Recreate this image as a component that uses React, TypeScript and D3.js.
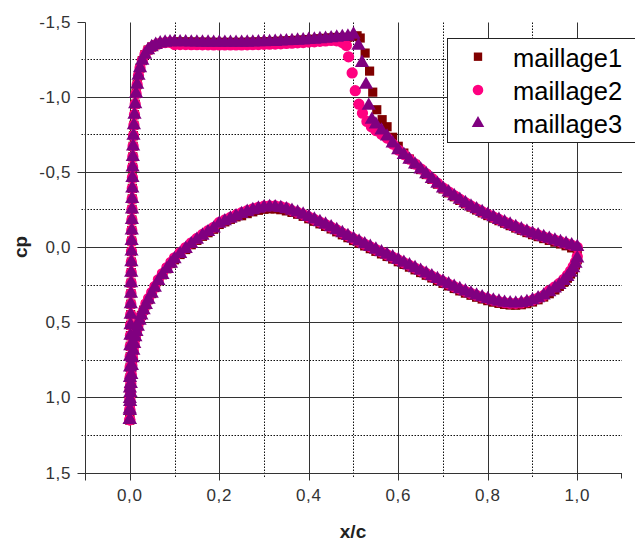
import React from 'react';
import * as d3 from 'd3';

const W = 635;
const H = 542;

const xMajor = [0, 0.2, 0.4, 0.6, 0.8, 1.0];
const xMinor = [0.1, 0.3, 0.5, 0.7, 0.9];
const xTickLabels = ['0,0', '0,2', '0,4', '0,6', '0,8', '1,0'];
const yMajor = [-1.5, -1.0, -0.5, 0, 0.5, 1.0, 1.5];
const yMinor = [-1.25, -0.75, -0.25, 0.25, 0.75, 1.25];
const yTickLabels = ['-1,5', '-1,0', '-0,5', '0,0', '0,5', '1,0', '1,5'];
const seriesNames = ['maillage1', 'maillage2', 'maillage3'];
const seriesColors = ['#800000', '#ff0080', '#800080'];

// upper surface, leading edge (all three meshes coincide)
const upperLeX = [0, 0, 0.0002, 0.0004, 0.0006, 0.0008, 0.001, 0.0012, 0.0015, 0.0018, 0.0021, 0.0024, 0.0027, 0.003, 0.0033, 0.0036, 0.0039, 0.0042, 0.0045, 0.0048, 0.0051, 0.0054, 0.0057, 0.006, 0.0064, 0.0069, 0.0075, 0.0083, 0.0093, 0.0106, 0.0122, 0.0142, 0.0166, 0.0195, 0.023, 0.028, 0.034, 0.041, 0.049, 0.058, 0.068, 0.079, 0.09];
const upperLeCp = [1.15, 1.08, 1.01, 0.94, 0.87, 0.8, 0.73, 0.66, 0.59, 0.52, 0.45, 0.38, 0.31, 0.24, 0.17, 0.1, 0.03, -0.04, -0.11, -0.18, -0.25, -0.32, -0.39, -0.46, -0.53, -0.6, -0.67, -0.74, -0.81, -0.88, -0.95, -1.02, -1.08, -1.14, -1.19, -1.24, -1.28, -1.31, -1.33, -1.345, -1.355, -1.36, -1.362];

// upper surface plateau
const plateauX = [0.1, 0.1125, 0.125, 0.1375, 0.15, 0.1625, 0.175, 0.1875, 0.2, 0.2125, 0.225, 0.2375, 0.25, 0.2625, 0.275, 0.2875, 0.3, 0.3125, 0.325, 0.3375, 0.35, 0.3625, 0.375, 0.3875, 0.4, 0.4125, 0.425, 0.4375, 0.45, 0.4625, 0.475];
const plateauCp1 = [-1.364, -1.364, -1.364, -1.363, -1.363, -1.362, -1.362, -1.361, -1.361, -1.361, -1.361, -1.361, -1.361, -1.362, -1.363, -1.364, -1.365, -1.366, -1.367, -1.369, -1.371, -1.373, -1.375, -1.377, -1.38, -1.382, -1.385, -1.388, -1.391, -1.394, -1.392];
const plateauCp2 = [-1.347, -1.347, -1.347, -1.346, -1.346, -1.345, -1.345, -1.344, -1.344, -1.344, -1.344, -1.344, -1.344, -1.345, -1.346, -1.347, -1.348, -1.349, -1.35, -1.352, -1.354, -1.356, -1.358, -1.36, -1.363, -1.365, -1.368, -1.371, -1.374, -1.372, -1.36];
const plateauCp3 = [-1.362, -1.362, -1.362, -1.361, -1.361, -1.36, -1.36, -1.359, -1.359, -1.359, -1.359, -1.359, -1.359, -1.36, -1.361, -1.362, -1.363, -1.364, -1.365, -1.367, -1.369, -1.371, -1.373, -1.375, -1.378, -1.38, -1.383, -1.386, -1.389, -1.393, -1.397];

// shock region, per mesh
const shock1X = [0.4875, 0.5, 0.508, 0.515, 0.526, 0.536, 0.543, 0.552, 0.564];
const shock1Cp = [-1.395, -1.4, -1.405, -1.39, -1.29, -1.17, -1.03, -0.913, -0.847];
const shock2X = [0.484, 0.489, 0.497, 0.504, 0.512, 0.52, 0.53, 0.54, 0.55, 0.5625];
const shock2Cp = [-1.34, -1.265, -1.158, -1.04, -0.95, -0.89, -0.835, -0.8, -0.775, -0.75];
const shock3X = [0.4875, 0.5, 0.511, 0.519, 0.528, 0.534, 0.541, 0.55, 0.5625];
const shock3Cp = [-1.4, -1.413, -1.34, -1.225, -1.08, -0.94, -0.847, -0.815, -0.775];

// upper surface after the shock
const aftX = [0.575, 0.5875, 0.6, 0.6125, 0.625, 0.6375, 0.65, 0.6625, 0.675, 0.6875, 0.7, 0.7125, 0.725, 0.7375, 0.75, 0.7625, 0.775, 0.7875, 0.8, 0.8125, 0.825, 0.8375, 0.85, 0.8625, 0.875, 0.8875, 0.9, 0.9125, 0.925, 0.9375, 0.95, 0.9625, 0.975, 0.9875, 1.0];
const aftCp1 = [-0.8, -0.73, -0.67, -0.625, -0.585, -0.549, -0.515, -0.482, -0.45, -0.418, -0.386, -0.36, -0.334, -0.31, -0.287, -0.265, -0.246, -0.227, -0.209, -0.192, -0.175, -0.158, -0.142, -0.126, -0.111, -0.096, -0.082, -0.069, -0.056, -0.044, -0.032, -0.02, -0.008, 0.006, 0.022];
const aftCp2 = [-0.725, -0.685, -0.645, -0.615, -0.584, -0.552, -0.52, -0.488, -0.456, -0.424, -0.393, -0.367, -0.342, -0.318, -0.295, -0.273, -0.254, -0.235, -0.217, -0.2, -0.183, -0.167, -0.151, -0.135, -0.12, -0.106, -0.092, -0.08, -0.068, -0.057, -0.046, -0.035, -0.024, -0.012, 0.002];
const aftCp3 = [-0.735, -0.69, -0.645, -0.613, -0.581, -0.549, -0.517, -0.485, -0.453, -0.421, -0.39, -0.364, -0.339, -0.315, -0.292, -0.27, -0.252, -0.233, -0.215, -0.198, -0.181, -0.165, -0.149, -0.133, -0.118, -0.104, -0.09, -0.078, -0.066, -0.055, -0.044, -0.033, -0.022, -0.011, 0.0];

// lower surface
const lowerX = [0, 0.0003, 0.0008, 0.0015, 0.0024, 0.0035, 0.0048, 0.0063, 0.008, 0.01, 0.0125, 0.015, 0.018, 0.022, 0.026, 0.031, 0.036, 0.042, 0.049, 0.056, 0.064, 0.073, 0.083, 0.092,
  0.1, 0.1125, 0.125, 0.1375, 0.15, 0.1625, 0.175, 0.1875, 0.2, 0.2125, 0.225, 0.2375, 0.25, 0.2625, 0.275, 0.2875, 0.3, 0.3125, 0.325, 0.3375, 0.35, 0.3625, 0.375, 0.3875, 0.4, 0.4125, 0.425, 0.4375, 0.45, 0.4625, 0.475, 0.4875, 0.5, 0.5125, 0.525, 0.5375, 0.55, 0.5625, 0.575, 0.5875, 0.6, 0.6125, 0.625, 0.6375, 0.65, 0.6625, 0.675, 0.6875, 0.7, 0.7125, 0.725, 0.7375, 0.75, 0.7625, 0.775, 0.7875, 0.8, 0.8125, 0.825, 0.8375, 0.85, 0.8625, 0.875, 0.8875, 0.9, 0.9125, 0.925, 0.9375, 0.95,
  0.96, 0.97, 0.978, 0.985, 0.991, 0.996, 1.0];
const lowerCp1 = [1.15, 1.09, 1.03, 0.97, 0.91, 0.85, 0.79, 0.74, 0.69, 0.645, 0.6, 0.565, 0.53, 0.49, 0.455, 0.42, 0.385, 0.35, 0.31, 0.27, 0.225, 0.185, 0.145, 0.11,
  0.085, 0.05, 0.017, -0.015, -0.044, -0.071, -0.095, -0.118, -0.15, -0.167, -0.184, -0.2, -0.208, -0.222, -0.234, -0.244, -0.251, -0.254, -0.253, -0.248, -0.24, -0.23, -0.218, -0.204, -0.188, -0.171, -0.154, -0.137, -0.12, -0.101, -0.081, -0.062, -0.043, -0.025, -0.007, 0.011, 0.029, 0.046, 0.063, 0.08, 0.098, 0.116, 0.134, 0.152, 0.17, 0.188, 0.206, 0.224, 0.242, 0.259, 0.276, 0.292, 0.307, 0.321, 0.334, 0.346, 0.357, 0.367, 0.375, 0.382, 0.386, 0.387, 0.384, 0.377, 0.366, 0.351, 0.333, 0.311, 0.286,
  0.262, 0.235, 0.208, 0.18, 0.15, 0.12, 0.085];
const lowerCp2 = [1.15, 1.09, 1.03, 0.97, 0.91, 0.85, 0.79, 0.74, 0.69, 0.645, 0.6, 0.565, 0.53, 0.49, 0.455, 0.42, 0.377, 0.342, 0.302, 0.262, 0.217, 0.177, 0.137, 0.102,
  0.072, 0.037, 0.004, -0.028, -0.057, -0.084, -0.108, -0.131, -0.163, -0.18, -0.197, -0.213, -0.228, -0.242, -0.254, -0.264, -0.271, -0.274, -0.273, -0.268, -0.26, -0.242, -0.23, -0.216, -0.2, -0.183, -0.166, -0.149, -0.132, -0.113, -0.093, -0.074, -0.055, -0.037, -0.019, -0.001, 0.017, 0.034, 0.051, 0.068, 0.086, 0.104, 0.122, 0.14, 0.158, 0.176, 0.194, 0.212, 0.23, 0.247, 0.264, 0.28, 0.295, 0.309, 0.322, 0.334, 0.345, 0.355, 0.363, 0.37, 0.374, 0.375, 0.372, 0.365, 0.354, 0.34, 0.322, 0.29, 0.265,
  0.242, 0.215, 0.188, 0.16, 0.13, 0.1, 0.065];
const lowerCp3 = [1.15, 1.09, 1.03, 0.97, 0.91, 0.85, 0.79, 0.74, 0.69, 0.645, 0.6, 0.565, 0.53, 0.49, 0.455, 0.42, 0.385, 0.35, 0.31, 0.27, 0.225, 0.185, 0.145, 0.11,
  0.08, 0.045, 0.012, -0.02, -0.049, -0.076, -0.1, -0.123, -0.155, -0.172, -0.189, -0.205, -0.22, -0.234, -0.246, -0.256, -0.263, -0.266, -0.265, -0.26, -0.252, -0.242, -0.23, -0.216, -0.2, -0.183, -0.166, -0.149, -0.132, -0.113, -0.093, -0.074, -0.055, -0.037, -0.019, -0.001, 0.017, 0.034, 0.051, 0.068, 0.086, 0.104, 0.122, 0.14, 0.158, 0.176, 0.194, 0.212, 0.23, 0.247, 0.264, 0.28, 0.295, 0.309, 0.322, 0.334, 0.345, 0.355, 0.363, 0.37, 0.374, 0.375, 0.372, 0.365, 0.354, 0.34, 0.322, 0.3, 0.275,
  0.252, 0.225, 0.198, 0.17, 0.14, 0.11, 0.075];

const zip = (xs: number[], ys: number[]) => {
  const n = Math.min(xs.length, ys.length);
  const out: [number, number][] = [];
  for (let i = 0; i < n; i++) out.push([xs[i], ys[i]]);
  return out;
};

const seriesData: [number, number][][] = [
  [...zip(upperLeX, upperLeCp), ...zip(plateauX, plateauCp1), ...zip(shock1X, shock1Cp), ...zip(aftX, aftCp1), ...zip(lowerX, lowerCp1)],
  [...zip(upperLeX, upperLeCp), ...zip(plateauX, plateauCp2), ...zip(shock2X, shock2Cp), ...zip(aftX, aftCp2), ...zip(lowerX, lowerCp2)],
  [...zip(upperLeX, upperLeCp), ...zip(plateauX, plateauCp3), ...zip(shock3X, shock3Cp), ...zip(aftX, aftCp3), ...zip(lowerX, lowerCp3)],
];

const plotSymbols = [
  d3.symbol().type(d3.symbolSquare).size(84)(),
  d3.symbol().type(d3.symbolCircle).size(100)(),
  d3.symbol().type(d3.symbolTriangle).size(88)(),
];
const legendSymbols = [
  d3.symbol().type(d3.symbolSquare).size(70)(),
  d3.symbol().type(d3.symbolCircle).size(88)(),
  d3.symbol().type(d3.symbolTriangle).size(68)(),
];

export default function App() {
  const x = d3.scaleLinear().domain([-0.1, 1.1]).range([85, 622]);
  const y = d3.scaleLinear().domain([-1.5, 1.5]).range([21.5, 472.5]);
  const px = (v: number) => Math.round(x(v)) + 0.5;
  const py = (v: number) => Math.round(y(v)) + 0.5;
  const x0 = 85.5;
  const yB = py(1.5);
  const yT = py(-1.5);
  const xR = 622;
  const font = 'Arial, "Liberation Sans", sans-serif';
  const ink = '#333';

  return (
    <svg width={W} height={H} style={{ position: 'absolute', left: 0, top: 0, background: '#fff' }}>
      <rect x={0} y={0} width={W} height={H} fill="#fff" />
      {/* minor grid */}
      {xMinor.map((v) => (
        <line key={'xm' + v} x1={px(v)} x2={px(v)} y1={yT} y2={yB + 5} stroke="#111" strokeWidth={1} strokeDasharray="1.5,1.5" />
      ))}
      {yMinor.map((v) => (
        <line key={'ym' + v} x1={x0 - 4} x2={xR} y1={py(v)} y2={py(v)} stroke="#111" strokeWidth={1} strokeDasharray="1.5,1.5" />
      ))}
      {/* major grid */}
      {xMajor.map((v) => (
        <line key={'xM' + v} x1={px(v)} x2={px(v)} y1={yT} y2={yB + 7} stroke={ink} strokeWidth={1} />
      ))}
      {yMajor.filter((v) => v > -1.5 && v < 1.5).map((v) => (
        <line key={'yM' + v} x1={x0 - 8} x2={xR} y1={py(v)} y2={py(v)} stroke={ink} strokeWidth={1} />
      ))}
      {/* axes */}
      <line x1={x0} x2={x0} y1={yT} y2={yB + 7} stroke={ink} strokeWidth={1} />
      <line x1={x0 - 8} x2={xR} y1={yB} y2={yB} stroke={ink} strokeWidth={1} />
      <line x1={x0 - 8} x2={x0} y1={yT} y2={yT} stroke={ink} strokeWidth={1} />
      <line x1={xR - 0.5} x2={xR - 0.5} y1={yB} y2={yB + 5} stroke={ink} strokeWidth={1} />
      {/* tick labels */}
      {yMajor.map((v, i) => (
        <text key={'yl' + v} x={71} y={y(v) + 6} textAnchor="end" fontFamily={font} fontSize={17} letterSpacing={0.6} fill={ink}>
          {yTickLabels[i]}
        </text>
      ))}
      {xMajor.map((v, i) => (
        <text key={'xl' + v} x={x(v)} y={501} textAnchor="middle" fontFamily={font} fontSize={17} letterSpacing={0.6} fill={ink}>
          {xTickLabels[i]}
        </text>
      ))}
      {/* axis titles */}
      <text x={353} y={538} textAnchor="middle" fontFamily={font} fontSize={19} fontWeight="bold" fill="#222">x/c</text>
      <text transform={`translate(27,${y(0)}) rotate(-90)`} textAnchor="middle" fontFamily={font} fontSize={19} fontWeight="bold" fill="#222">cp</text>
      {/* data */}
      {seriesData.map((pts, s) => (
        <g key={'s' + s} fill={seriesColors[s]}>
          {pts.map((p, i) => (
            <path key={i} d={plotSymbols[s] as string} transform={`translate(${x(p[0])},${y(p[1])})`} />
          ))}
        </g>
      ))}
      {/* legend */}
      <rect x={447.5} y={38.5} width={200} height={104} fill="#fff" stroke="#222" strokeWidth={1} />
      {seriesNames.map((name, i) => {
        const cy = 56.7 + i * 33.3;
        return (
          <g key={name}>
            <path d={legendSymbols[i] as string} transform={`translate(478,${cy})`} fill={seriesColors[i]} />
            <text x={513} y={cy + 10} fontFamily={font} fontSize={25.5} fill="#000">{name}</text>
          </g>
        );
      })}
    </svg>
  );
}
